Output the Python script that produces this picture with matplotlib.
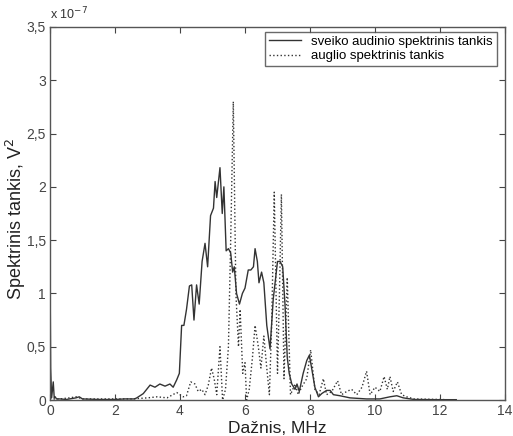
import matplotlib
matplotlib.use("Agg")
import matplotlib.pyplot as plt

plt.rcParams['font.family'] = ['Liberation Sans', 'DejaVu Sans']

# Healthy tissue spectral density (units of 1e-7 V^2)
healthy_x = [0, 0.02, 0.05, 0.1, 0.13, 0.16, 0.2, 0.3, 0.5, 0.8, 0.9, 1.0, 1.5, 2.0, 2.3, 2.6,
             2.67, 2.87, 3.08, 3.23, 3.38, 3.54, 3.69, 3.79, 3.9, 3.98, 4.05, 4.12, 4.2, 4.29,
             4.36, 4.43, 4.51, 4.59, 4.68, 4.77, 4.85, 4.94, 5.03, 5.08, 5.13, 5.23, 5.3, 5.35,
             5.42, 5.49, 5.56, 5.62, 5.67, 5.74, 5.83, 5.92, 6.0, 6.1, 6.18, 6.26, 6.31, 6.38,
             6.43, 6.51, 6.58, 6.67, 6.77, 6.87, 7.0, 7.08, 7.16, 7.23, 7.3, 7.36, 7.44, 7.54,
             7.6, 7.67, 7.79, 7.9, 7.98, 8.05, 8.15, 8.26, 8.36, 8.51, 8.62, 8.72, 8.92, 9.23,
             9.74, 10.15, 10.46, 10.67, 10.87, 11.2, 12.0, 12.5]
healthy_y = [1.3, 0.3, 0.02, 0.17, 0.02, 0.03, 0.01, 0.01, 0.005, 0.02, 0.03, 0.01, 0.005, 0.005,
             0.01, 0.01, 0.02, 0.06, 0.14, 0.12, 0.15, 0.13, 0.15, 0.12, 0.19, 0.25, 0.7, 0.7,
             0.85, 1.07, 1.08, 0.75, 1.08, 0.9, 1.3, 1.47, 1.25, 1.73, 1.8, 2.05, 1.9, 2.18, 1.75,
             2.0, 1.4, 1.42, 1.38, 1.2, 1.25, 1.0, 0.9, 1.0, 1.05, 1.22, 1.22, 1.25, 1.42, 1.3,
             1.1, 1.2, 1.1, 0.7, 0.48, 0.95, 1.3, 1.3, 1.25, 0.9, 0.4, 0.25, 0.15, 0.1, 0.15,
             0.08, 0.25, 0.37, 0.42, 0.3, 0.12, 0.03, 0.06, 0.09, 0.09, 0.05, 0.04, 0.02, 0.01,
             0.01, 0.03, 0.04, 0.02, 0.005, 0.003, 0.003]

# Tumor spectral density (units of 1e-7 V^2)
tumor_x = [0, 0.1, 0.3, 0.6, 0.8, 1.0, 1.5, 2.0, 2.5, 3.0, 3.3, 3.6, 3.9, 4.1, 4.2, 4.33, 4.46,
           4.56, 4.67, 4.77, 4.87, 4.97, 5.05, 5.13, 5.23, 5.31, 5.4, 5.49, 5.56, 5.64, 5.72,
           5.8, 5.85, 5.93, 6.0, 6.05, 6.13, 6.23, 6.31, 6.41, 6.49, 6.58, 6.67, 6.75, 6.82,
           6.9, 7.0, 7.06, 7.12, 7.2, 7.3, 7.4, 7.54, 7.64, 7.74, 7.9, 8.02, 8.15, 8.28, 8.41,
           8.51, 8.67, 8.85, 8.97, 9.13, 9.28, 9.44, 9.6, 9.74, 9.85, 10.0, 10.15, 10.28, 10.38,
           10.46, 10.56, 10.69, 10.82, 10.97, 11.2, 12.0, 12.5]
tumor_y = [0.02, 0.01, 0.01, 0.02, 0.03, 0.01, 0.01, 0.01, 0.01, 0.02, 0.03, 0.02, 0.07, 0.03,
           0.04, 0.17, 0.15, 0.08, 0.1, 0.05, 0.14, 0.3, 0.2, 0.05, 0.5, 0.0, 0.1, 0.5, 1.5, 2.8,
           1.0, 0.5, 0.85, 0.25, 0.35, 0.0, 0.1, 0.4, 0.7, 0.5, 0.3, 0.6, 0.3, 0.05, 0.7, 1.95,
           0.25, 1.0, 1.93, 0.2, 1.15, 0.05, 0.15, 0.05, 0.12, 0.2, 0.47, 0.1, 0.05, 0.2, 0.05,
           0.08, 0.18, 0.05, 0.08, 0.1, 0.05, 0.12, 0.27, 0.05, 0.12, 0.08, 0.22, 0.1, 0.22, 0.08,
           0.17, 0.05, 0.03, 0.01, 0.005, 0.0]

x_ticks = [0, 2, 4, 6, 8, 10, 12, 14]
y_ticks = [0, 0.5, 1, 1.5, 2, 2.5, 3, 3.5]
y_tick_labels = ['0', '0,5', '1', '1,5', '2', '2,5', '3', '3,5']
legend_labels = ['sveiko audinio spektrinis tankis', 'auglio spektrinis tankis']

fig = plt.figure(figsize=(5.13, 4.36), dpi=100)
ax = fig.add_axes([50/513, 1-400/436, 455/513, 373/436])

line_col = '#333333'
ax.plot(healthy_x, healthy_y, '-', color=line_col, lw=1.0, label=legend_labels[0])
ax.plot(tumor_x, tumor_y, ':', color=line_col, lw=1.0, label=legend_labels[1])

ax.set_xlim(0, 14)
ax.set_ylim(0, 3.5)
ax.set_xticks(x_ticks)
ax.set_yticks(y_ticks)
ax.set_yticklabels(y_tick_labels)
ax.tick_params(direction='in', top=True, right=True, length=4, width=0.8,
               colors='#444444', labelcolor='#444444', labelsize=10, pad=3)
for s in ax.spines.values():
    s.set_color('#555555')
    s.set_linewidth(1.0)

ax.set_xlabel('Dažnis, MHz', fontsize=12.5, color='#222222', labelpad=2)
ax.set_ylabel('Spektrinis tankis, V$^2$', fontsize=13, color='#222222')
ax.yaxis.set_label_coords(-0.048, 0.485)
ax.text(0.0, 1.012, 'x 10$^{-7}$', transform=ax.transAxes, fontsize=9,
        color='#333333', ha='left', va='bottom')

leg = ax.legend(loc='upper right', bbox_to_anchor=(0.982, 0.987), borderaxespad=0,
                fancybox=False, edgecolor='#444444', fontsize=9.5, handlelength=2.4,
                borderpad=0.3, labelspacing=0.15, handletextpad=0.8)
leg.get_frame().set_linewidth(1.0)

fig.savefig('out.png', dpi=100)
